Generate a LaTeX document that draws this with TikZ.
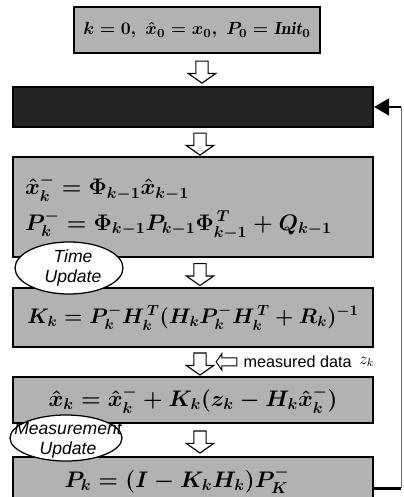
\RequirePackage{fix-cm}
\documentclass[tikz,border=0pt]{standalone}
\usepackage{fontspec}
\usepackage{amsmath}
\usepackage{tikz}
\usetikzlibrary{
  positioning,
  arrows.meta,
  shapes.geometric,
  shapes.arrows,
  calc
}
\newfontfamily\labelfont{Liberation Sans}
\definecolor{eqbg}{RGB}{178,178,178}
\definecolor{loopbg}{RGB}{36,36,36}
\definecolor{railcolor}{RGB}{110,110,110}
\tikzset{
  eqbox/.style={
    draw=black, fill=eqbg, line width=1.4pt,
    minimum width=9cm, inner sep=0pt,
    font=\fontsize{16}{19}\selectfont\boldmath, align=center
  },
  initbox/.style={
    eqbox, minimum width=6.15cm, minimum height=1.15cm,
    font=\fontsize{12.5}{15}\selectfont\boldmath
  },
  loopbox/.style={
    draw=black, fill=loopbg, line width=1.4pt,
    minimum width=9cm, minimum height=1.0cm
  },
  updateoval/.style={
    ellipse, draw=black, fill=white, line width=0.9pt, inner sep=0pt
  },
  updatetext/.style={
    font=\labelfont\itshape\fontsize{12.5}{14.5}\selectfont, align=center, inner sep=0pt
  },
  hollowdown/.style={
    single arrow, draw=black, fill=white, line width=0.8pt,
    shape border rotate=270, minimum height=0.55cm, inner sep=0.14cm,
    single arrow head extend=0.19cm, single arrow tip angle=110
  },
  hollowleft/.style={
    single arrow, draw=black, fill=white, line width=0.7pt,
    shape border rotate=180, minimum height=0.52cm, inner sep=0.09cm,
    single arrow head extend=0.1cm, single arrow tip angle=110
  },
  thickline/.style={
    line width=2pt, draw=black
  },
  railline/.style={
    line width=0.6pt, draw=railcolor
  }
}

\begin{document}
\begin{tikzpicture}[node distance=0.7cm]
  \useasboundingbox (0,0) rectangle (10.075,-12.425);

  % main column
  \node[initbox] (init) at (4.925,-0.75) {$k=0,\ \hat{x}_0=x_0,\ P_0=\mathit{Init}_0$};

  \node[loopbox, below=0.8cm of init, xshift=-0.1cm] (loop) {};

  \node[eqbox, minimum height=2.5cm, below=0.7cm of loop, align=left, text width=8.4cm] (predict) {
    $\hat{x}_k^{-}=\Phi_{k-1}\hat{x}_{k-1}$\\[5pt]
    $P_k^{-}=\Phi_{k-1}P_{k-1}\Phi_{k-1}^{\,T}+Q_{k-1}$
  };

  \node[eqbox, minimum height=1.475cm, below=0.725cm of predict, font=\fontsize{15}{18}\selectfont\boldmath] (gain) {$K_k=P_k^{-}H_k^{\,T}(H_kP_k^{-}H_k^{\,T}+R_k)^{-1}$};

  \node[eqbox, minimum height=1.15cm, below=0.7cm of gain] (estimate) {$\hat{x}_k=\hat{x}_k^{-}+K_k(z_k-H_k\hat{x}_k^{-})$};

  \node[eqbox, minimum height=1.175cm, below=0.8cm of estimate] (covar) {\hspace*{-0.8cm}$P_k=(I-K_kH_k)P_K^{-}$};

  % hollow arrows between the boxes
  \node[hollowdown, xshift=0.175cm] (a1) at ($(init.south)!0.5!(loop.north)$) {};
  \node[hollowdown, xshift=0.175cm] (a2) at ($(loop.south)!0.5!(predict.north)$) {};
  \node[hollowdown, xshift=0.175cm] (a3) at ($(predict.south)!0.5!(gain.north)$) {};
  \node[hollowdown, xshift=0.175cm] (a4) at ($(gain.south)!0.5!(estimate.north)$) {};
  \node[hollowdown, xshift=0.175cm] (a5) at ($(estimate.south)!0.5!(covar.north)$) {};

  % measured data input
  \node[hollowleft, right=0.22cm of a4] (zin) {};
  \node[font=\labelfont\fontsize{11.5}{13}\selectfont, inner sep=0pt, right=0.15cm of zin] (zlabel) {measured data};
  \node[inner sep=0pt, font=\large, right=0.18cm of zlabel] (zk) {$z_k$};

  % update ovals
  \node[updateoval, minimum width=2.7cm, minimum height=1.3cm] (tu) at (1.725,-6.7) {};
  \node[updatetext] (tutext) at ([xshift=0.1cm]tu.center) {Time\\Update};
  \node[updateoval, minimum width=2.8cm, minimum height=1.15cm] (mu) at (1.65,-10.95) {};
  \node[updatetext] (mutext) at ([xshift=0.05cm, yshift=-0.05cm]mu.center) {Measurement\\Update};

  % feedback loop
  \coordinate (rail) at (10.025,0);
  \draw[thickline] ([yshift=-0.2cm]covar.east) -- ([yshift=-0.2cm]covar.east -| rail) coordinate (rb);
  \draw[railline] (rb) -- (rb |- loop.east) coordinate (rt);
  \draw[thickline, -{Triangle[length=0.38cm, width=0.42cm]}] (rt) -- (loop.east);

\end{tikzpicture}
\end{document}
